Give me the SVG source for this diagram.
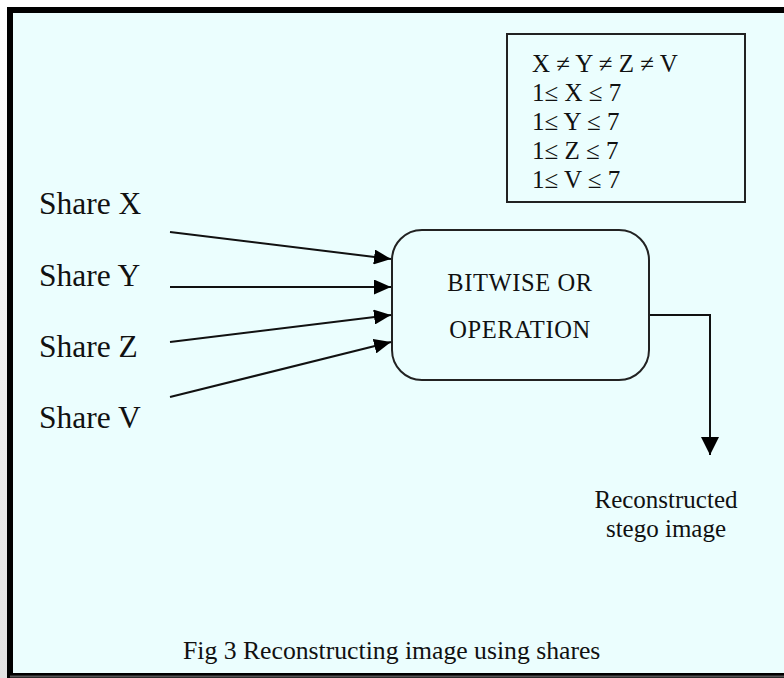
<svg xmlns="http://www.w3.org/2000/svg" width="784" height="678" viewBox="0 0 784 678">
<defs>
<linearGradient id="sh" x1="0" y1="0" x2="0" y2="1">
<stop offset="0" stop-color="#ffffff"/>
<stop offset="1" stop-color="#e2e2e2"/>
</linearGradient>
<marker id="ah" viewBox="0 0 17 15" refX="17" refY="7.5" markerWidth="17" markerHeight="15" markerUnits="userSpaceOnUse" orient="auto">
<path d="M0,0 L17,7.5 L0,15 Z" fill="#000"/>
</marker>
<marker id="ahd" viewBox="0 0 18 18" refX="18" refY="9" markerWidth="18" markerHeight="18" markerUnits="userSpaceOnUse" orient="auto">
<path d="M0,0 L18,9 L0,18 Z" fill="#000"/>
</marker>
<style>
.t{font-family:"Liberation Serif","Times New Roman",serif;fill:#111;}
.share{font-size:31.5px;}
.small{font-size:25px;}
.conn{stroke:#111;stroke-width:2;fill:none;}
</style>
</defs>
<rect x="0" y="0" width="784" height="678" fill="#ffffff"/>
<rect x="0" y="0" width="8" height="678" fill="url(#sh)"/>
<rect x="10" y="10" width="790" height="666" fill="#ebfefe" stroke="#000" stroke-width="6"/>
<line x1="10" y1="676.5" x2="784" y2="676.5" stroke="#555" stroke-width="2"/>

<g id="constraints">
<rect x="507" y="34" width="238" height="168" fill="#ebfefe" stroke="#222" stroke-width="2"/>
<text class="t small" x="532" y="72">X ≠ Y ≠ Z ≠ V</text>
<text class="t small" x="532" y="101">1≤ X ≤ 7</text>
<text class="t small" x="532" y="130">1≤ Y ≤ 7</text>
<text class="t small" x="532" y="159">1≤ Z ≤ 7</text>
<text class="t small" x="532" y="188">1≤ V ≤ 7</text>
</g>

<g id="shareX"><text class="t share" x="39" y="214">Share X</text></g>
<g id="shareY"><text class="t share" x="39" y="286">Share Y</text></g>
<g id="shareZ"><text class="t share" x="39" y="357">Share Z</text></g>
<g id="shareV"><text class="t share" x="39" y="428">Share V</text></g>

<g id="bitwise">
<rect x="392" y="230" width="257" height="150" rx="30" ry="30" fill="#ebfefe" stroke="#222" stroke-width="2"/>
<text class="t" x="520" y="291" font-size="24.5" letter-spacing="0.6" text-anchor="middle">BITWISE OR</text>
<text class="t" x="520" y="338" font-size="24.5" letter-spacing="0.6" text-anchor="middle">OPERATION</text>
</g>

<g id="output">
<text class="t small" x="666" y="508" text-anchor="middle">Reconstructed</text>
<text class="t small" x="666" y="537" text-anchor="middle">stego image</text>
</g>

<g id="connectors">
<line class="conn" x1="170" y1="232" x2="391" y2="259" marker-end="url(#ah)"/>
<line class="conn" x1="170" y1="287" x2="391" y2="287" marker-end="url(#ah)"/>
<line class="conn" x1="170" y1="342" x2="391" y2="315" marker-end="url(#ah)"/>
<line class="conn" x1="170" y1="397" x2="391" y2="342" marker-end="url(#ah)"/>
<polyline class="conn" points="650,315 710,315 710,455" marker-end="url(#ahd)"/>
</g>

<g id="caption">
<text class="t" x="183" y="659" font-size="25.7">Fig 3 Reconstructing image using shares</text>
</g>
</svg>
